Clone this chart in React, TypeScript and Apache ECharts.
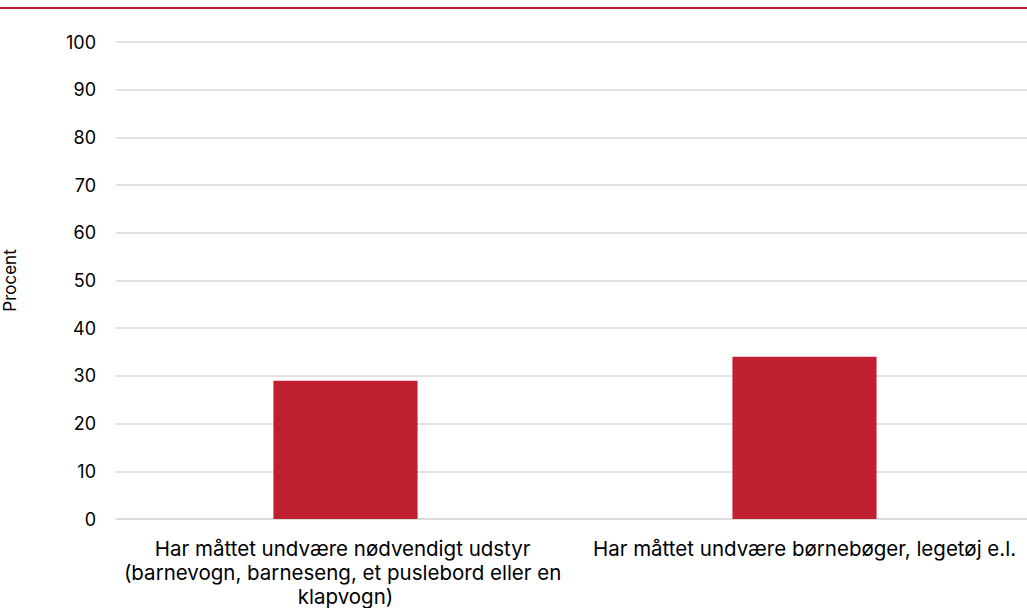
import React, { useEffect, useRef } from "react";
import * as echarts from "echarts";

const categories = [
  "Har måttet undvære nødvendigt udstyr (barnevogn, barneseng, et puslebord eller en klapvogn)",
  "Har måttet undvære børnebøger, legetøj e.l.",
];
const values = [29, 34];
const yTicks = { min: 0, max: 100, interval: 10 };
const yAxisName = "Procent";

export default function App() {
  const ref = useRef<HTMLDivElement>(null);
  useEffect(() => {
    if (!ref.current) return;
    const chart = echarts.init(ref.current, null, { renderer: "svg" });
    const font = "Inter, 'Noto Sans', sans-serif";
    chart.setOption({
      animation: false,
      textStyle: { fontFamily: font },
      graphic: [
        {
          type: "rect",
          shape: { x: 0, y: 7, width: 1027, height: 2 },
          style: { fill: "#C01F32" },
        },
      ],
      grid: {
        left: 116,
        width: 918,
        top: 42,
        bottom: 89,
        containLabel: false,
        outerBoundsMode: "none",
      },
      xAxis: {
        type: "category",
        data: categories,
        axisLine: { show: true, lineStyle: { color: "#d9d9d9", width: 1.5 } },
        axisTick: { show: false },
        axisLabel: {
          interval: 0,
          color: "#000",
          fontSize: 20.5,
          fontFamily: font,
          lineHeight: 24,
          margin: 17,
          width: 480,
          overflow: "break",
        },
      },
      yAxis: {
        type: "value",
        min: yTicks.min,
        max: yTicks.max,
        interval: yTicks.interval,
        name: yAxisName,
        nameLocation: "middle",
        nameGap: 98,
        nameRotate: 90,
        nameTextStyle: { color: "#000", fontSize: 17, fontFamily: font },
        axisLine: { show: false },
        axisTick: { show: false },
        axisLabel: { color: "#000", fontSize: 18, fontFamily: font, margin: 20 },
        splitLine: { lineStyle: { color: "#d9d9d9", width: 1.5 } },
      },
      series: [
        {
          type: "bar",
          data: values,
          barWidth: "31.4%",
          itemStyle: { color: "#C01F32" },
        },
      ],
    });
    return () => chart.dispose();
  }, []);
  return (
    <div
      ref={ref}
      style={{ position: "fixed", left: 0, top: 0, width: 1027, height: 608, background: "#fff" }}
    />
  );
}
